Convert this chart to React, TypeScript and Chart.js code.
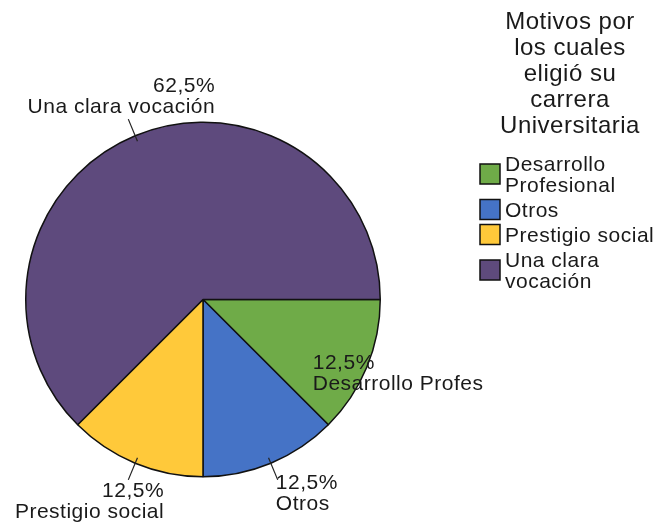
import React, { useEffect, useRef } from "react";
import { Chart, registerables } from "chart.js";

Chart.register(...registerables);

const categories = ["Desarrollo Profesional", "Otros", "Prestigio social", "Una clara vocación"];
const values = [12.5, 12.5, 12.5, 62.5];
const sliceLabels = ["Desarrollo Profes", "Otros", "Prestigio social", "Una clara vocación"];
const legendTitle = "Motivos por los cuales eligió su carrera Universitaria";
const colors = ["#6FAB48", "#4573C6", "#FFC93A", "#5E4A7D"];

// label placement relative to the slice edge at its mid-angle
const labelLayout = [
  { dx: -54, dy: 2, align: "left", leader: false },
  { dx: 5, dy: 26, align: "left", leader: true },
  { dx: 29, dy: 34, align: "right", leader: true },
  { dx: 80, dy: -44, align: "right", leader: true },
];

const FONT = "21px 'Liberation Sans', Arial, sans-serif";
const TITLE_FONT = "24px 'Liberation Sans', Arial, sans-serif";
const TEXT_COLOR = "#1a1a1a";

function fmtPct(v: number, total: number) {
  return ((v / total) * 100).toFixed(1).replace(".", ",") + "%";
}

function wrap(ctx: CanvasRenderingContext2D, text: string, maxW: number) {
  const words = text.split(" ");
  const lines: string[] = [];
  let cur = "";
  for (const w of words) {
    const t = cur ? cur + " " + w : w;
    if (cur && ctx.measureText(t).width > maxW) {
      lines.push(cur);
      cur = w;
    } else cur = t;
  }
  if (cur) lines.push(cur);
  return lines;
}

const overlay = {
  id: "overlay",
  afterDraw(chart: any) {
    const ctx: CanvasRenderingContext2D = chart.ctx;
    const total = values.reduce((a, b) => a + b, 0);
    const meta = chart.getDatasetMeta(0);
    ctx.save();
    (ctx as any).letterSpacing = "0.5px";
    ctx.fillStyle = TEXT_COLOR;
    ctx.strokeStyle = "#222";
    ctx.lineWidth = 1.2;
    ctx.font = FONT;
    ctx.textBaseline = "alphabetic";
    meta.data.forEach((arc: any, i: number) => {
      const p = arc.getProps(["x", "y", "startAngle", "endAngle", "outerRadius"], true);
      const mid = (p.startAngle + p.endAngle) / 2;
      const ex = p.x + Math.cos(mid) * p.outerRadius;
      const ey = p.y + Math.sin(mid) * p.outerRadius;
      const L = labelLayout[i];
      if (L.leader) {
        ctx.beginPath();
        ctx.moveTo(p.x + Math.cos(mid) * (p.outerRadius - 6), p.y + Math.sin(mid) * (p.outerRadius - 6));
        ctx.lineTo(p.x + Math.cos(mid) * (p.outerRadius + 18), p.y + Math.sin(mid) * (p.outerRadius + 18));
        ctx.stroke();
      }
      ctx.textAlign = L.align as CanvasTextAlign;
      const tx = ex + L.dx;
      const ty = ey + L.dy;
      ctx.fillText(fmtPct(values[i], total), tx, ty);
      ctx.fillText(sliceLabels[i], tx, ty + 21);
    });

    // legend title
    ctx.font = TITLE_FONT;
    ctx.textAlign = "center";
    const tLines = wrap(ctx, legendTitle, 145);
    tLines.forEach((l, k) => ctx.fillText(l, 570, 29 + k * 26));

    // legend items
    ctx.font = FONT;
    ctx.textAlign = "left";
    let b = 171;
    categories.forEach((c, i) => {
      const lines = wrap(ctx, c, 152);
      const center = b - 7.5 + ((lines.length - 1) * 21) / 2;
      ctx.fillStyle = colors[i];
      ctx.fillRect(480, center - 10, 20, 20);
      ctx.strokeStyle = "#111";
      ctx.lineWidth = 1.5;
      ctx.strokeRect(480, center - 10, 20, 20);
      ctx.fillStyle = TEXT_COLOR;
      lines.forEach((l, k) => ctx.fillText(l, 505, b + k * 21));
      b += lines.length * 21 + 4;
    });
    ctx.restore();
  },
};

export default function App() {
  const ref = useRef<HTMLCanvasElement>(null);
  useEffect(() => {
    if (!ref.current) return;
    const chart = new Chart(ref.current, {
      type: "pie",
      data: {
        labels: categories,
        datasets: [
          {
            data: values,
            backgroundColor: colors,
            borderColor: "#111",
            borderWidth: 1.5,
          },
        ],
      },
      options: {
        responsive: true,
        maintainAspectRatio: false,
        animation: false,
        rotation: 90,
        layout: { padding: { left: 25, top: 121, right: 273, bottom: 49 } },
        plugins: {
          legend: { display: false },
          tooltip: { enabled: false },
          title: { display: false },
        },
      },
      plugins: [overlay],
    });
    return () => chart.destroy();
  }, []);
  return (
    <div style={{ position: "fixed", left: 0, top: 0, width: 654, height: 527, background: "#fff" }}>
      <canvas ref={ref} />
    </div>
  );
}
